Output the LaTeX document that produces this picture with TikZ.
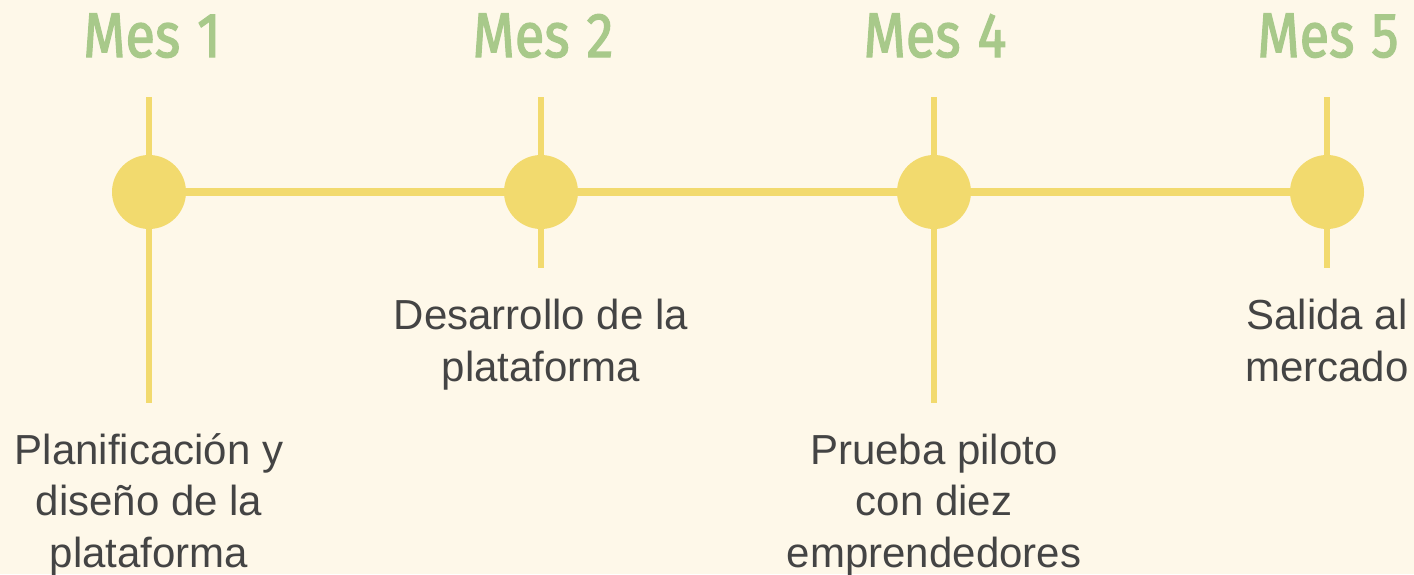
\documentclass[tikz,border=0pt]{standalone}
\usepackage{fontspec}
\setmainfont{Liberation Sans}
\newfontfamily\headfont[FakeBold=2.2]{Fira Sans}
\definecolor{bgcream}{HTML}{FEF8E9}
\definecolor{tlyellow}{HTML}{F2DA6E}
\definecolor{hgreen}{HTML}{A8C98A}
\definecolor{txtgray}{HTML}{444444}
\begin{document}
\begin{tikzpicture}[x=1pt,y=-1pt,
  heading/.style={anchor=base, inner sep=0pt, text=hgreen, font=\headfont\fontsize{63}{63}\selectfont},
  label/.style={anchor=base, inner sep=0pt, align=center, text=txtgray, font=\fontsize{42}{51.5}\selectfont},
  stem/.style={draw=tlyellow, line width=6pt},
  rail/.style={draw=tlyellow, line width=8pt},
  dot/.style={circle, fill=tlyellow, minimum size=74pt, inner sep=0pt}]
\fill[bgcream] (0,0) rectangle (1414,574);
\useasboundingbox (0,0) rectangle (1414,574);
% stems
\coordinate (t1) at (149,97); \coordinate (b1) at (149,403);
\coordinate (t2) at (541,97); \coordinate (b2) at (541,268);
\coordinate (t3) at (934,97); \coordinate (b3) at (934,403);
\coordinate (t4) at (1327,97); \coordinate (b4) at (1327,268);
\draw[stem] (t1) -- (b1);
\draw[stem] (t2) -- (b2);
\draw[stem] (t3) -- (b3);
\draw[stem] (t4) -- (b4);
% dots
\node[dot] (d1) at (149,192) {};
\node[dot] (d2) at (541,192) {};
\node[dot] (d3) at (934,192) {};
\node[dot] (d4) at (1327,192) {};
\draw[rail] (d1) -- (d2);
\draw[rail] (d2) -- (d3);
\draw[rail] (d3) -- (d4);
% headings
\node[heading] (h1) at (152,57) {\scalebox{0.86}[1]{Mes\hspace{3pt} 1}};
\node[heading] (h2) at (543,57) {\scalebox{0.86}[1]{Mes\hspace{3pt} 2}};
\node[heading] (h3) at (935,57) {\scalebox{0.86}[1]{Mes\hspace{3pt} 4}};
\node[heading] (h4) at (1328,57) {\scalebox{0.86}[1]{Mes\hspace{3pt} 5}};
% labels (base anchor = last line baseline)
\node[label] (l1) at (149,567) {Planificación y\\diseño de la\\plataforma};
\node[label] (l2) at (541,381) {Desarrollo de la\\plataforma};
\node[label] (l3) at (934,567) {Prueba piloto\\con diez\\emprendedores};
\node[label] (l4) at (1327,381) {Salida al\\mercado};
\end{tikzpicture}
\end{document}
